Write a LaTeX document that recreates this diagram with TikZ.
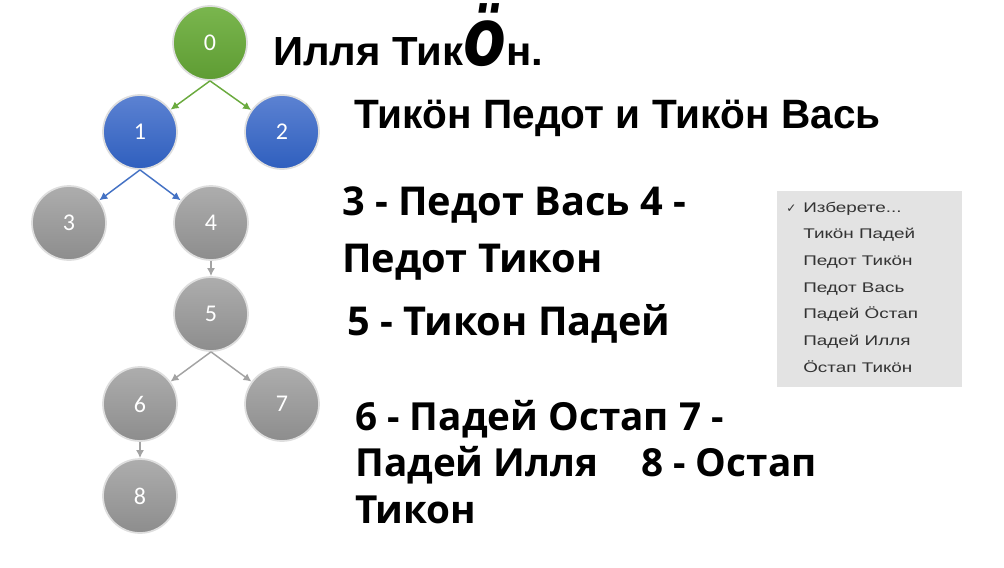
\documentclass[tikz,border=0pt]{standalone}
\usepackage{fontspec}
\usepackage{tikz}
\usetikzlibrary{arrows.meta}

\setmainfont{Open Sans}
\newfontfamily\titlefont[FakeStretch=0.99]{Liberation Sans}
\newfontfamily\widetitlefont[FakeStretch=1.03]{Liberation Sans}
\newfontfamily\bigofont[FakeStretch=0.78]{DejaVu Sans}
\newfontfamily\numfont{Carlito}
\newfontfamily\menufont[FakeStretch=1.35]{Liberation Sans}
\newfontfamily\symfont{DejaVu Sans}

\definecolor{greentop}{HTML}{7AB64E}
\definecolor{greenbot}{HTML}{5E9C33}
\definecolor{greenline}{HTML}{6AAA3E}
\definecolor{bluetop}{HTML}{5C82D2}
\definecolor{bluebot}{HTML}{2F5FBE}
\definecolor{blueline}{HTML}{4472C4}
\definecolor{graytop}{HTML}{ADADAD}
\definecolor{graybot}{HTML}{8D8D8D}
\definecolor{grayline}{HTML}{A3A3A3}
\definecolor{menugray}{HTML}{E3E3E3}

\begin{document}
\begin{tikzpicture}[
            x=0.75pt, y=-0.75pt,
            state/.style={circle, minimum size=55.5pt, inner sep=0pt, draw=black!13, line width=1.3pt,
                          text=white, font=\numfont\fontsize{18}{18}\selectfont},
            greenstate/.style={state, top color=greentop, bottom color=greenbot},
            bluestate/.style={state, top color=bluetop, bottom color=bluebot},
            graystate/.style={state, top color=graytop, bottom color=graybot},
            link/.style={-{Latex[length=6pt,width=6pt]}, line width=1.1pt},
            bigtitle/.style={anchor=base west, inner sep=0pt, font=\titlefont\bfseries\fontsize{30.75}{30.75}\selectfont},
            names/.style={anchor=base west, inner sep=0pt, font=\bfseries\fontsize{29.8}{29.8}\selectfont},
            smallnames/.style={anchor=base west, inner sep=0pt, font=\bfseries\fontsize{29}{29}\selectfont},
            menuitem/.style={anchor=base west, inner sep=0pt, text=black!80, font=\menufont\fontsize{10.5}{10.5}\selectfont}
        ]
        \useasboundingbox (0,0) rectangle (1004,568);

        % --- Nodes ---
        \node[greenstate] (n0) at (210,43) {0};
        \node[bluestate]  (n1) at (140,132) {1};
        \node[bluestate]  (n2) at (282,132) {2};
        \node[graystate]  (n3) at (69,223) {3};
        \node[graystate]  (n4) at (211,223) {4};
        \node[graystate]  (n5) at (211,314) {5};
        \node[graystate]  (n6) at (140,404) {6};
        \node[graystate]  (n7) at (282,404) {7};
        \node[graystate]  (n8) at (140,496) {8};

        % --- Directed edges ---
        \draw[link,greenline] (n0.south) to (n1);
        \draw[link,greenline] (n0.south) to (n2);
        \draw[link,blueline] (n1.south) to (n3);
        \draw[link,blueline] (n1.south) to (n4);
        \draw[link,grayline] (n4.south) to (n5.north);
        \draw[link,grayline] (n5.south) to (n6);
        \draw[link,grayline] (n5.south) to (n7);
        \draw[link,grayline] (n6.south) to (n8.north);

        % --- Texts ---
        \node[bigtitle, font=\widetitlefont\bfseries\fontsize{30.5}{30.5}\selectfont] (title) at (273,65)
            {Илля Тик{\bigofont\bfseries\itshape\fontsize{60}{60}\selectfont ö}н.};
        \node[bigtitle] (sons) at (354,128) {Тикöн Педот и Тикöн Вась};
        \node[names] (line3a) at (342,215) {3 - Педот Вась 4 -};
        \node[names] (line3b) at (342,272) {Педот Тикон};
        \node[names] (line5) at (347,335) {5 - Тикон Падей};
        \node[smallnames] (line6a) at (355,430) {6 - Падей Остап 7 -};
        \node[smallnames] (line6b) at (355,476) {Падей Илля\hspace{0.85em} 8 - Остап};
        \node[smallnames] (line6c) at (355,523) {Тикон};

        % --- Drop-down list ---
        \node[fill=menugray, minimum width=138.75pt, minimum height=147pt, inner sep=0pt] (menu) at (869.5,289) {};
        \node[anchor=base west, inner sep=0pt, text=black!80, font=\symfont\fontsize{9}{9}\selectfont] (tick) at (786,212) {✓};
        \node[menuitem] (m0) at (803,212) {Изберете...};
        \node[menuitem] (m1) at (803,238.7) {Тикöн Падей};
        \node[menuitem] (m2) at (803,265.4) {Педот Тикöн};
        \node[menuitem] (m3) at (803,292.1) {Педот Вась};
        \node[menuitem] (m4) at (803,318.8) {Падей Öстап};
        \node[menuitem] (m5) at (803,345.5) {Падей Илля};
        \node[menuitem] (m6) at (803,372.2) {Öстап Тикöн};
        \end{tikzpicture}
\end{document}
